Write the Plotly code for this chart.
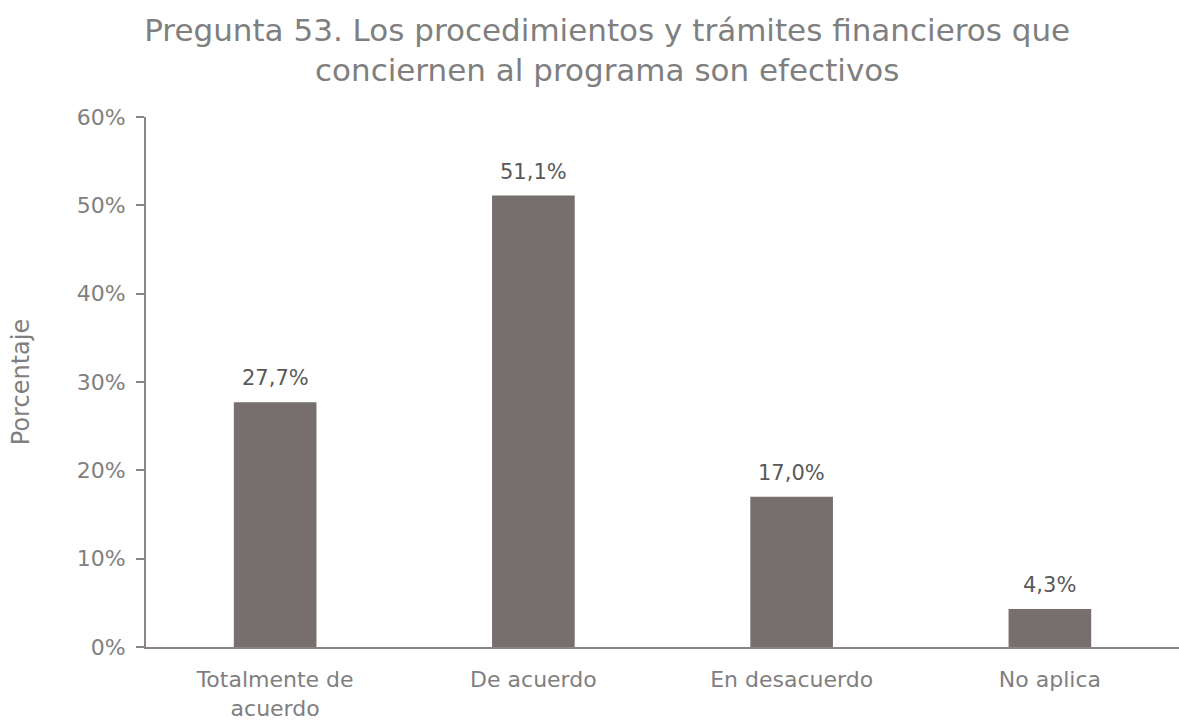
import plotly.graph_objects as go

categorias = ["Totalmente de<br>acuerdo", "De acuerdo", "En desacuerdo", "No aplica"]
porcentajes = [27.7, 51.1, 17.0, 4.3]
etiquetas = ["27,7%", "51,1%", "17,0%", "4,3%"]
ticks_y = [0, 10, 20, 30, 40, 50, 60]
ticks_y_texto = ["0%", "10%", "20%", "30%", "40%", "50%", "60%"]

FUENTE = "DejaVu Sans"
GRIS_TEXTO = "#7f7f7f"
GRIS_BARRA = "#776e6e"
GRIS_EJE = "#8c8484"

fig = go.Figure(
    go.Bar(
        x=categorias,
        y=porcentajes,
        marker=dict(color=GRIS_BARRA, line=dict(width=0)),
        width=0.32,
        cliponaxis=False,
    )
)

# value labels above each bar
for cat, val, txt in zip(categorias, porcentajes, etiquetas):
    fig.add_annotation(
        x=cat,
        y=val,
        text=txt,
        showarrow=False,
        yanchor="bottom",
        yshift=10,
        font=dict(family=FUENTE, size=21, color="#595959"),
    )

fig.update_layout(
    width=1179,
    height=721,
    margin=dict(l=146, r=0, t=117, b=72),
    paper_bgcolor="white",
    plot_bgcolor="white",
    showlegend=False,
    title=dict(
        text="Pregunta 53. Los procedimientos y trámites financieros que<br>conciernen al programa son efectivos",
        x=0.515,
        xanchor="center",
        y=1 - 41 / 721,
        yanchor="middle",
        font=dict(family=FUENTE, size=31, color=GRIS_TEXTO),
    ),
    font=dict(family=FUENTE, color=GRIS_TEXTO),
)

fig.update_yaxes(
    range=[0, 60],
    tickvals=ticks_y,
    ticktext=ticks_y_texto,
    showgrid=False,
    zeroline=False,
    showline=True,
    linecolor=GRIS_EJE,
    linewidth=2,
    ticks="outside",
    ticklen=8,
    tickwidth=2,
    tickcolor=GRIS_EJE,
    ticklabelstandoff=6,
    tickfont=dict(family=FUENTE, size=22, color=GRIS_TEXTO),
    title=dict(text="Porcentaje", font=dict(family=FUENTE, size=24, color=GRIS_TEXTO), standoff=40),
)

fig.update_xaxes(
    showgrid=False,
    showline=True,
    linecolor=GRIS_EJE,
    linewidth=2,
    ticks="",
    ticklabelstandoff=12,
    tickfont=dict(family=FUENTE, size=22, color=GRIS_TEXTO),
)

fig.write_html("out.html")
